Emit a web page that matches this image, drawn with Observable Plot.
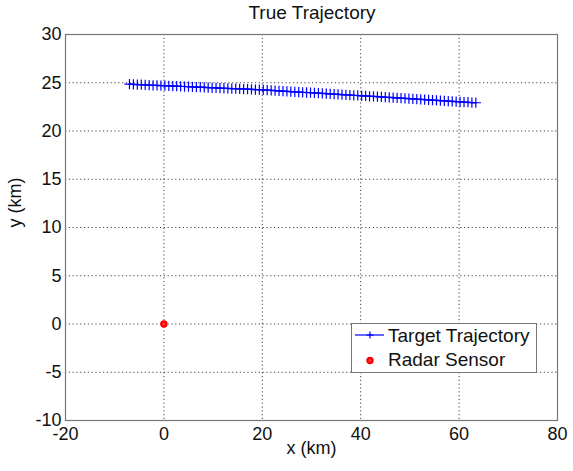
<!DOCTYPE html>
<html>
<head>
<meta charset="utf-8">
<script src="https://cdn.jsdelivr.net/npm/d3@7"></script>
<script src="https://cdn.jsdelivr.net/npm/@observablehq/plot@0.6"></script>
<style>
  body { margin: 0; background: #fff; font-family: "Liberation Sans", Arial, sans-serif; }
  #chart { position: relative; width: 573px; height: 471px; }
  #title { position: absolute; left: 0; top: 0; width: 522px; height: 26px; line-height: 26px; font-size: 19px; text-align: center; padding-left: 51px; color: #111; }
  #legend { position: absolute; left: 351px; top: 323px; width: 184px; border: 1px solid #777; background: #fff; font-size: 19px; color: #111; }
  #legend .row { display: flex; align-items: flex-start; height: 24px; line-height: 24px; }
  #legend svg { flex: none; }
</style>
</head>
<body>
<div id="chart">
  <div id="plot"></div>
  <div id="title">True Trajectory</div>
  <div id="legend"></div>
</div>
<script>
// Target track (km)
const trackX = [
  -7.0, -6.2, -5.4, -4.6, -3.8, -3.0, -2.2, -1.4, -0.6, 0.2,
  1.0, 1.8, 2.6, 3.4, 4.2, 5.0, 5.8, 6.6, 7.4, 8.2,
  9.0, 9.8, 10.6, 11.4, 12.2, 13.0, 13.8, 14.6, 15.4, 16.2,
  17.0, 17.8, 18.6, 19.4, 20.2, 21.0, 21.8, 22.6, 23.4, 24.2,
  25.0, 25.8, 26.6, 27.4, 28.2, 29.0, 29.8, 30.6, 31.4, 32.2,
  33.0, 33.8, 34.6, 35.4, 36.2, 37.0, 37.8, 38.6, 39.4, 40.2,
  41.0, 41.8, 42.6, 43.4, 44.2, 45.0, 45.8, 46.6, 47.4, 48.2,
  49.0, 49.8, 50.6, 51.4, 52.2, 53.0, 53.8, 54.6, 55.4, 56.2,
  57.0, 57.8, 58.6, 59.4, 60.2, 61.0, 61.8, 62.6, 63.4
];
const trackY = [
  24.85, 24.83, 24.81, 24.80, 24.78, 24.76, 24.74, 24.73, 24.71, 24.69,
  24.68, 24.66, 24.64, 24.62, 24.61, 24.59, 24.57, 24.55, 24.54, 24.52,
  24.50, 24.48, 24.47, 24.45, 24.43, 24.41, 24.40, 24.38, 24.36, 24.35,
  24.33, 24.31, 24.29, 24.28, 24.25, 24.23, 24.21, 24.18, 24.16, 24.13,
  24.11, 24.09, 24.06, 24.04, 24.01, 23.99, 23.97, 23.94, 23.92, 23.89,
  23.87, 23.85, 23.82, 23.80, 23.77, 23.75, 23.73, 23.70, 23.68, 23.65,
  23.63, 23.60, 23.58, 23.55, 23.53, 23.50, 23.48, 23.45, 23.43, 23.40,
  23.38, 23.35, 23.33, 23.30, 23.28, 23.25, 23.23, 23.20, 23.18, 23.15,
  23.13, 23.10, 23.08, 23.05, 23.03, 23.00, 22.98, 22.95, 22.93
];

// Radar position (km)
const sensorX = [0];
const sensorY = [0];

const xTicks = [-20, 0, 20, 40, 60, 80];
const yTicks = [-10, -5, 0, 5, 10, 15, 20, 25, 30];

const seriesNames = ["Target Trajectory", "Radar Sensor"];

const track = trackX.map((x, i) => ({x, y: trackY[i]}));
const sensor = sensorX.map((x, i) => ({x, y: sensorY[i]}));

const gridStyle = {stroke: "#000", strokeOpacity: 0.75, strokeDasharray: "1.2,2.6", strokeWidth: 1};
const plainNumber = d => String(d); // ASCII hyphen for negatives

const chart = Plot.plot({
  width: 573,
  height: 471,
  marginTop: 34,
  marginLeft: 65,
  marginRight: 16,
  marginBottom: 51,
  style: {fontFamily: "Liberation Sans, Arial, sans-serif", fontSize: "18px", color: "#111", background: "#fff"},
  x: {domain: [-20, 80]},
  y: {domain: [-10, 30]},
  marks: [
    Plot.gridX(xTicks, gridStyle),
    Plot.gridY(yTicks, gridStyle),
    Plot.frame({stroke: "#777", strokeWidth: 1.2}),
    Plot.axisX(xTicks, {tickSize: 0, tickPadding: 7, fontSize: 18, tickFormat: plainNumber, label: null}),
    Plot.axisY(yTicks, {tickSize: 0, tickPadding: 4, fontSize: 18, tickFormat: plainNumber, label: null}),
    Plot.text(["x (km)"], {frameAnchor: "bottom", dy: 33, fontSize: 18, fill: "#111"}),
    Plot.text(["y (km)"], {frameAnchor: "left", rotate: -90, dx: -50, fontSize: 18, fill: "#111"}),
    Plot.line(track, {x: "x", y: "y", stroke: "#0000ff", strokeWidth: 1.2}),
    Plot.dot(track, {x: "x", y: "y", symbol: "plus", r: 3.4, stroke: "#0000ff", strokeWidth: 1.2}),
    Plot.dot(sensor, {x: "x", y: "y", r: 2.6, stroke: "#ff0000", fill: "#ff3a3a", strokeWidth: 2.2})
  ]
});
document.getElementById("plot").appendChild(chart);

// Legend
const legend = document.getElementById("legend");
const symbolSvgs = [
  '<svg width="36" height="24"><line x1="3" y1="11" x2="32" y2="11" stroke="#0000ff" stroke-width="1.2"/>' +
    '<line x1="14.6" y1="11" x2="21.4" y2="11" stroke="#0000ff" stroke-width="1.2"/><line x1="18" y1="7.6" x2="18" y2="14.4" stroke="#0000ff" stroke-width="1.2"/></svg>',
  '<svg width="36" height="24"><circle cx="18" cy="12.5" r="2.6" fill="#ff3a3a" stroke="#ff0000" stroke-width="2.2"/></svg>'
];
seriesNames.forEach((name, i) => {
  const row = document.createElement("div");
  row.className = "row";
  row.innerHTML = symbolSvgs[i] + '<span>' + name + '</span>';
  legend.appendChild(row);
});
</script>
</body>
</html>
